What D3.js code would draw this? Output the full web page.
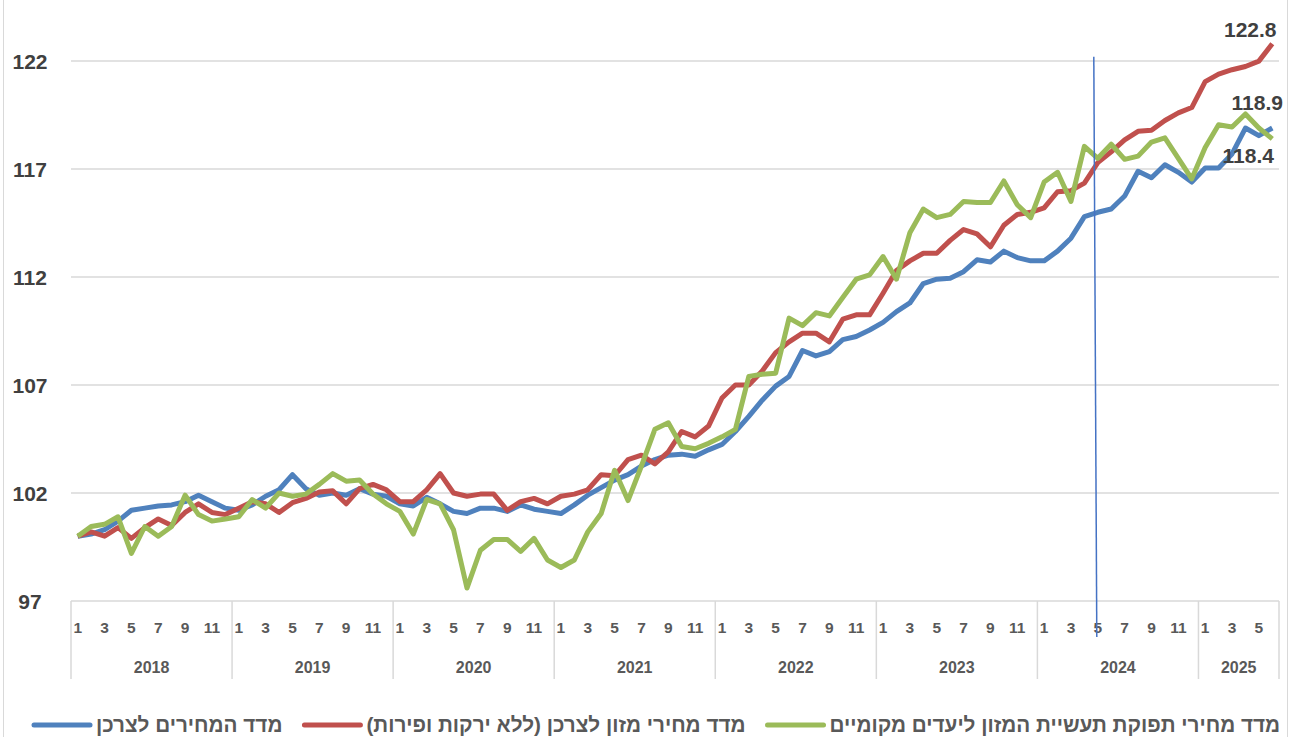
<!DOCTYPE html>
<html lang="he">
<head>
<meta charset="UTF-8">
<title>מדדי מחירים</title>
<script src="https://d3js.org/d3.v7.min.js"></script>
<style>
  body { margin: 0; background: #fff; }
  svg text { font-family: "Liberation Sans", "DejaVu Sans", sans-serif; font-weight: bold; }
</style>
</head>
<body>
<div id="chart"></div>
<script>
// years and months on the category axis (Jan 2018 - Jun 2025)
var years = [2018, 2019, 2020, 2021, 2022, 2023, 2024, 2025];
var monthsInYear = [12, 12, 12, 12, 12, 12, 12, 6];
var monthTicks = [1, 3, 5, 7, 9, 11];
var yTicks = [97, 102, 107, 112, 117, 122];

var seriesNames = [
  "מדד המחירים לצרכן",
  "מדד מחירי מזון לצרכן (ללא ירקות ופירות)",
  "מדד מחירי תפוקת תעשיית המזון ליעדים מקומיים"
];
var seriesColors = ["#4F81BD", "#C0504D", "#9BBB59"];

// consumer price index
var cpi = [
  100.0, 100.1, 100.3, 100.7, 101.2, 101.3, 101.4, 101.45, 101.6, 101.9, 101.6, 101.3,
  101.2, 101.45, 101.85, 102.15, 102.85, 102.2, 101.9, 102.0, 101.9, 102.2, 101.95, 101.85,
  101.5, 101.4, 101.8, 101.5, 101.15, 101.05, 101.3, 101.3, 101.15, 101.45, 101.25, 101.15,
  101.05, 101.45, 101.9, 102.25, 102.6, 102.85, 103.25, 103.55, 103.75, 103.8, 103.7, 104.0,
  104.25, 104.85, 105.55, 106.3, 106.95, 107.4, 108.6, 108.35, 108.55, 109.1, 109.25, 109.55,
  109.9, 110.4, 110.8, 111.7, 111.9, 111.95, 112.25, 112.8, 112.7, 113.2, 112.9, 112.75,
  112.75, 113.2, 113.8, 114.8, 115.0, 115.15, 115.75, 116.9, 116.6, 117.2, 116.85, 116.4,
  117.05, 117.05, 117.7, 118.9, 118.55, 118.9
];

// food CPI excluding fruit and vegetables
var foodCpi = [
  100.0, 100.2, 100.0, 100.4, 99.9, 100.4, 100.8, 100.5, 101.1, 101.5, 101.1, 101.0,
  101.3, 101.6, 101.5, 101.1, 101.55, 101.75, 102.05, 102.1, 101.5, 102.2, 102.4, 102.15,
  101.6, 101.6, 102.15, 102.9, 102.0, 101.85, 101.95, 101.95, 101.2, 101.6, 101.75, 101.5,
  101.85, 101.95, 102.15, 102.85, 102.8, 103.55, 103.75, 103.35, 103.9, 104.85, 104.6, 105.1,
  106.4, 107.0, 107.0, 107.65, 108.5, 109.0, 109.4, 109.4, 109.0, 110.05, 110.25, 110.25,
  111.25, 112.3, 112.75, 113.1, 113.1, 113.7, 114.2, 114.0, 113.4, 114.4, 114.9, 115.0,
  115.2, 115.95, 116.0, 116.35, 117.3, 117.8, 118.35, 118.75, 118.8, 119.25, 119.6, 119.85,
  121.05, 121.4, 121.6, 121.75, 122.0, 122.8
];

// food industry output prices, domestic
var foodOutput = [
  100.0, 100.45, 100.55, 100.9, 99.2, 100.45, 100.0, 100.45, 101.9, 101.0, 100.7, 100.8,
  100.9, 101.7, 101.3, 102.0, 101.85, 101.95, 102.4, 102.9, 102.55, 102.6, 101.95, 101.5,
  101.15, 100.1, 101.7, 101.5, 100.3, 97.6, 99.35, 99.85, 99.85, 99.3, 99.9, 98.9,
  98.55, 98.9, 100.2, 101.05, 103.05, 101.65, 103.25, 104.95, 105.25, 104.15, 104.05, 104.3,
  104.6, 104.95, 107.4, 107.5, 107.55, 110.1, 109.75, 110.35, 110.2, 111.05, 111.9, 112.1,
  112.95, 111.9, 114.05, 115.15, 114.75, 114.9, 115.5, 115.45, 115.45, 116.45, 115.35, 114.75,
  116.4, 116.85, 115.5, 118.05, 117.5, 118.15, 117.45, 117.6, 118.25, 118.45, 117.5, 116.55,
  118.0, 119.05, 118.95, 119.55, 118.9, 118.4
];

var markIndex = 76; // May 2024 marker line

const width = 1290, height = 737;
const margin = {top: 39.5, right: 11, bottom: 136, left: 71};

const svg = d3.select("#chart").append("svg")
  .attr("width", width).attr("height", height);

// chart border
svg.append("rect")
  .attr("x", 3.5).attr("y", -2).attr("width", width - 6).attr("height", height + 4)
  .attr("fill", "none").attr("stroke", "#d9d9d9").attr("stroke-width", 1);

var allSeries = [cpi, foodCpi, foodOutput];
var idx = d3.range(cpi.length);

const x = d3.scaleBand().domain(idx).range([margin.left, width - margin.right]).padding(0);
const xc = i => x(i) + x.bandwidth() / 2;
const y = d3.scaleLinear().domain([97, 123]).range([height - margin.bottom, margin.top]);

// gridlines
svg.append("g").selectAll("line").data(yTicks).join("line")
  .attr("x1", margin.left).attr("x2", width - margin.right)
  .attr("y1", d => y(d)).attr("y2", d => y(d))
  .attr("stroke", "#d9d9d9").attr("stroke-width", 1.5);

svg.append("g").selectAll("text").data(yTicks).join("text")
  .attr("x", 30).attr("y", d => y(d)).attr("dy", "0.36em")
  .attr("text-anchor", "middle").attr("font-size", 21).attr("fill", "#404040")
  .text(d => d);

// category axis: months and years
var yearStart = [];
var acc = 0;
monthsInYear.forEach(function(n) { yearStart.push(acc); acc += n; });
var axisY = y(97);
var bounds = yearStart.map(s => x(s)).concat([x(idx.length - 1) + x.bandwidth()]);
svg.append("g").selectAll("line").data(bounds).join("line")
  .attr("x1", d => d).attr("x2", d => d)
  .attr("y1", axisY).attr("y2", axisY + 78)
  .attr("stroke", "#d9d9d9").attr("stroke-width", 1.5);

var monthLabels = [];
years.forEach(function(yr, k) {
  for (var m = 1; m <= monthsInYear[k]; m++) {
    if (monthTicks.indexOf(m) >= 0) monthLabels.push({i: yearStart[k] + m - 1, m: m});
  }
});
svg.append("g").selectAll("text").data(monthLabels).join("text")
  .attr("x", d => xc(d.i)).attr("y", axisY + 26).attr("dy", "0.36em")
  .attr("text-anchor", "middle").attr("font-size", 15.5).attr("fill", "#595959")
  .text(d => d.m);

svg.append("g").selectAll("text").data(years).join("text")
  .attr("x", (d, k) => (bounds[k] + bounds[k + 1]) / 2).attr("y", axisY + 66).attr("dy", "0.36em")
  .attr("text-anchor", "middle").attr("font-size", 16).attr("fill", "#595959")
  .text(d => d);

// lines
const line = d3.line().x((d, i) => xc(i)).y(d => y(d));
svg.append("g").selectAll("path").data(allSeries).join("path")
  .attr("fill", "none")
  .attr("stroke", (d, k) => seriesColors[k])
  .attr("stroke-width", 5)
  .attr("stroke-linejoin", "round")
  .attr("d", d => line(d));

// marker line
svg.append("line")
  .attr("x1", xc(markIndex) - 4).attr("y1", y(122.2))
  .attr("x2", xc(markIndex) - 1).attr("y2", axisY + 36)
  .attr("stroke", "#4472C4").attr("stroke-width", 1.5);

// end labels
var last = idx.length - 1;
var endLabels = [
  {v: foodCpi[last], dx: -22, dy: -14},
  {v: cpi[last], dx: -15, dy: -26},
  {v: foodOutput[last], dx: -24, dy: 17}
];
svg.append("g").selectAll("text").data(endLabels).join("text")
  .attr("x", d => xc(last) + d.dx).attr("y", d => y(d.v) + d.dy).attr("dy", "0.36em")
  .attr("text-anchor", "middle").attr("font-size", 21).attr("fill", "#404040")
  .text(d => d.v.toFixed(1));

// legend, laid out right to left
var legY = 725;
var right = width - 10;
var legend = svg.append("g");
[2, 1, 0].forEach(function(k) {
  var t = legend.append("text")
    .attr("x", right).attr("y", legY).attr("dy", "0.36em")
    .attr("direction", "rtl").attr("text-anchor", "start")
    .attr("font-size", 20.7).attr("fill", "#595959")
    .text(seriesNames[k]);
  var bb = t.node().getBBox();
  legend.append("line")
    .attr("x1", bb.x - 62).attr("x2", bb.x - 6)
    .attr("y1", legY).attr("y2", legY)
    .attr("stroke", seriesColors[k]).attr("stroke-width", 5)
    .attr("stroke-linecap", "round");
  right = bb.x - 84;
});
</script>
</body>
</html>
